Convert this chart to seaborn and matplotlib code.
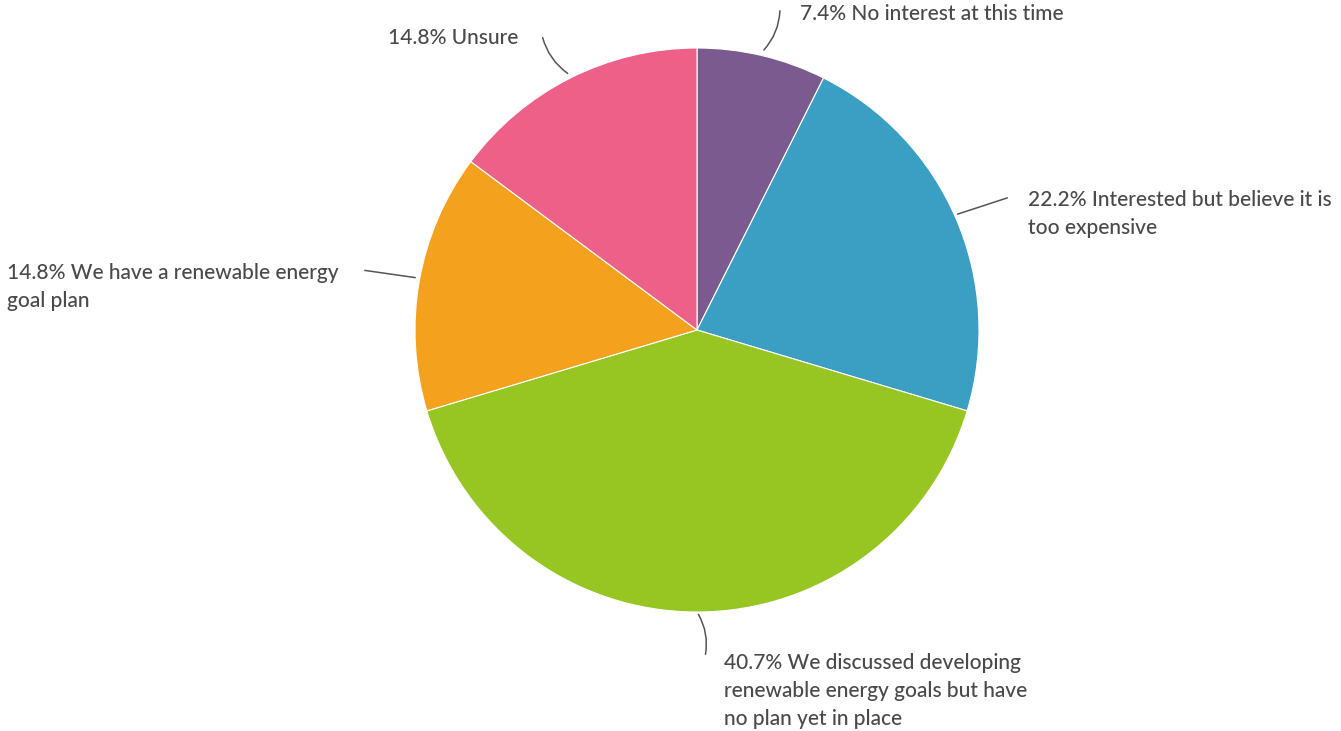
import matplotlib
matplotlib.use("Agg")
import matplotlib.pyplot as plt
import seaborn as sns

sns.set_theme(style="white")
plt.rcParams['font.family'] = ['Lato', 'DejaVu Sans']

categories = ["No interest at this time",
              "Interested but believe it is\ntoo expensive",
              "We discussed developing\nrenewable energy goals but have\nno plan yet in place",
              "We have a renewable energy\ngoal plan",
              "Unsure"]
values = [7.4, 22.2, 40.7, 14.8, 14.8]
colors = ["#7b5a8f", "#3b9fc4", "#97c623", "#f4a11e", "#ed6087"]

W, H = 1341, 731
fig = plt.figure(figsize=(W / 100, H / 100), dpi=100)
ax = fig.add_axes([0, 0, 1, 1])

cx, cy, r = 697, H - 330, 282
ax.pie(values, colors=colors, startangle=90, counterclock=False,
       center=(cx, cy), radius=r, frame=True,
       wedgeprops=dict(edgecolor='white', linewidth=0.8))
ax.set_xlim(0, W)
ax.set_ylim(0, H)
ax.set_aspect('equal')
ax.axis('off')

# label placement: (text xy, anchor point on pie, line end, rad)
layout = [
    ((800, H - 14), (762, H - 52), (780, H - 8), -0.2),
    ((1028, H - 214), (955, H - 215), (1010, H - 197), 0.0),
    ((724, H - 691), (697, H - 612), (705, H - 657), 0.2),
    ((7, H - 287), (418, H - 278), (362, H - 270), 0.0),
    ((388, H - 38), (570, H - 75), (542, H - 35), 0.2),
]
for v, cat, (txy, a, e, rad) in zip(values, categories, layout):
    ax.annotate("", xy=a, xytext=e,
                arrowprops=dict(arrowstyle='-', color='#555555', lw=1.1,
                                connectionstyle=f"arc3,rad={rad}"))
    ax.text(txy[0], txy[1], f"{v:.1f}% {cat}", ha='left', va='center',
            fontsize=15, fontweight='medium', color='#4a4a4a',
            linespacing=1.5)

fig.savefig("out.png", dpi=100, facecolor='white')
